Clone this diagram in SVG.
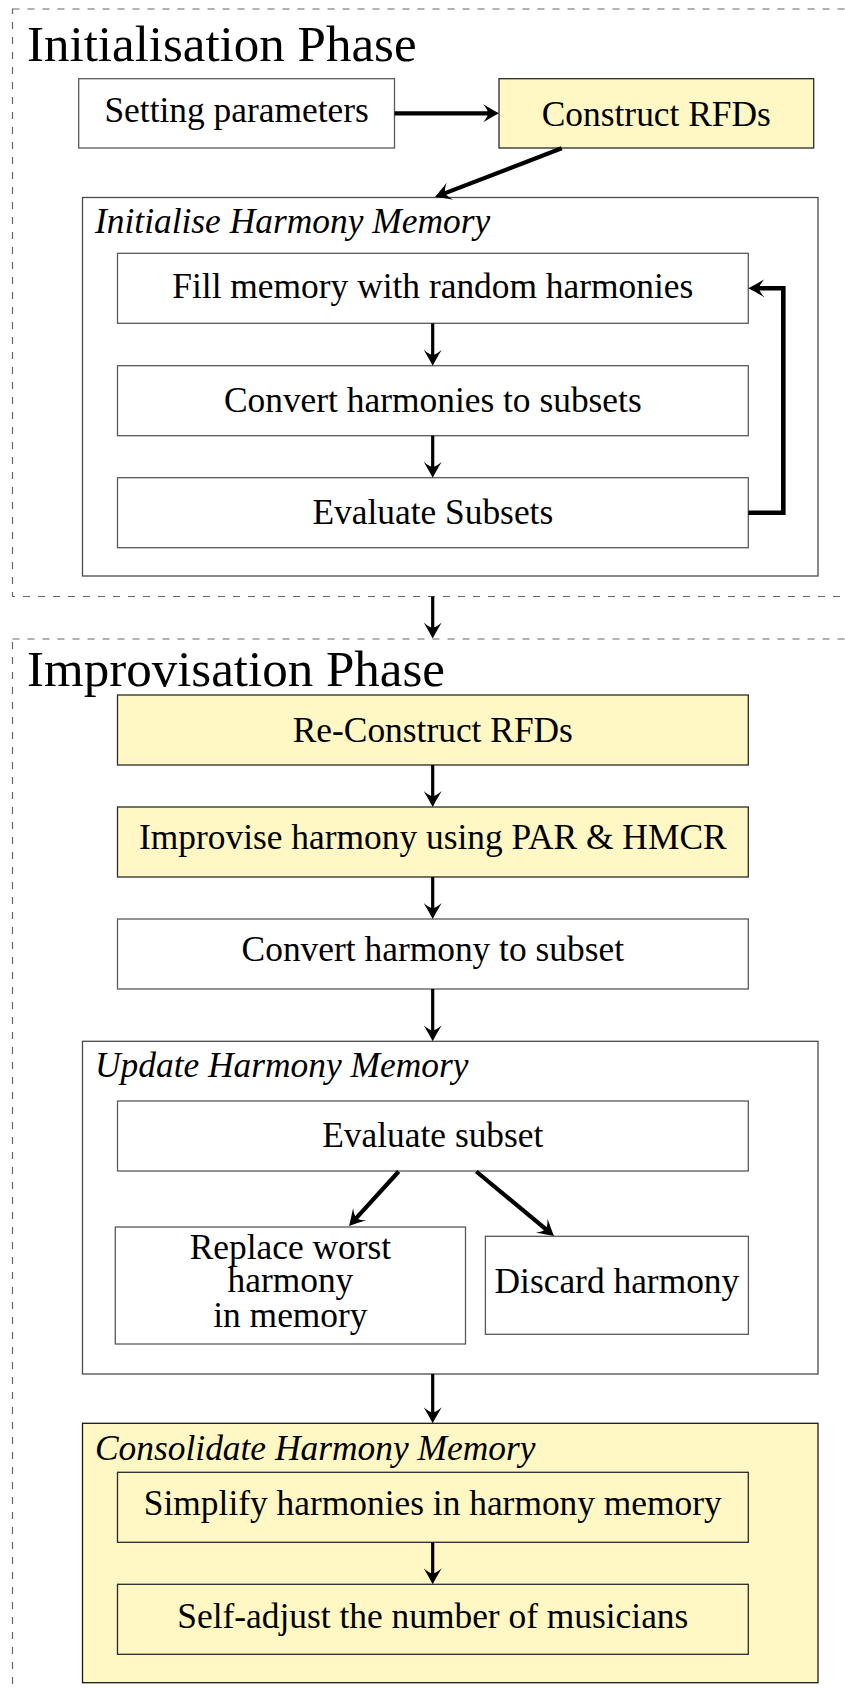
<svg xmlns="http://www.w3.org/2000/svg" width="845" height="1690" viewBox="0 0 845 1690">
  <style>
    text { font-family: "Liberation Serif", "Times New Roman", serif; fill: #000; }
    .phase { font-size: 51px; }
    .lbl { font-size: 35.4px; text-anchor: middle; }
    .grp { font-size: 35.4px; font-style: italic; }
    .box { fill: #fff; stroke: #5a5a5a; stroke-width: 1.3; }
    .hl { fill: #fff7c4; stroke: #2a2a2a; stroke-width: 1.3; }
    .frame { fill: none; stroke: #666; stroke-width: 1.2; stroke-dasharray: 7 8; }
    .cont { fill: #fff; stroke: #4a4a4a; stroke-width: 1.3; }
    .cont-hl { fill: #fff7c4; stroke: #1a1a1a; stroke-width: 1.3; }
    .edge { fill: none; stroke: #000; stroke-width: 3.2; marker-end: url(#ah); }
    .edge.thick { stroke-width: 4.2; }
  </style>
  <defs>
    <marker id="ah" markerUnits="userSpaceOnUse" orient="auto" viewBox="-20 -15 30 30" markerWidth="30" markerHeight="30" refX="-8" refY="0" overflow="visible">
      <path d="M0,0 C-4,-2 -10,-5.5 -16,-9 Q-11,-3.5 -11,0 Q-11,3.5 -16,9 C-10,5.5 -4,2 0,0 Z" fill="#000"/>
    </marker>
  </defs>

  <!-- phase frames (dashed, open to the right) -->
  <g id="initialisation-phase">
    <rect class="frame" x="12.5" y="9" width="900" height="587.5"/>
    <text class="phase" x="27" y="61">Initialisation Phase</text>
  </g>
  <g id="improvisation-phase">
    <rect class="frame" x="12.5" y="639" width="900" height="1100"/>
    <text class="phase" x="27" y="686">Improvisation Phase</text>
  </g>

  <!-- initialisation phase -->
  <g id="setting-parameters">
    <rect class="box" x="78.7" y="78.7" width="315.8" height="69.3"/>
    <text class="lbl" x="236.6" y="122">Setting parameters</text>
  </g>
  <g id="construct-rfds">
    <rect class="hl" x="499" y="78.7" width="314.7" height="69.3"/>
    <text class="lbl" x="656.3" y="126">Construct RFDs</text>
  </g>
  <g id="initialise-hm">
    <rect class="cont" x="82.5" y="197.5" width="735.5" height="378.5"/>
    <text class="grp" x="95" y="233">Initialise Harmony Memory</text>
  </g>
  <g id="fill-memory">
    <rect class="box" x="117.5" y="253.3" width="630.8" height="70"/>
    <text class="lbl" x="432.8" y="298">Fill memory with random harmonies</text>
  </g>
  <g id="convert-harmonies">
    <rect class="box" x="117.5" y="365.7" width="630.8" height="70"/>
    <text class="lbl" x="432.8" y="412">Convert harmonies to subsets</text>
  </g>
  <g id="evaluate-subsets">
    <rect class="box" x="117.5" y="477.7" width="630.8" height="70"/>
    <text class="lbl" x="432.8" y="524">Evaluate Subsets</text>
  </g>

  <!-- improvisation phase -->
  <g id="reconstruct-rfds">
    <rect class="hl" x="117.5" y="695" width="630.8" height="70"/>
    <text class="lbl" x="432.8" y="742">Re-Construct RFDs</text>
  </g>
  <g id="improvise-harmony">
    <rect class="hl" x="117.5" y="807" width="630.8" height="70"/>
    <text class="lbl" x="432.8" y="849">Improvise harmony using PAR &amp; HMCR</text>
  </g>
  <g id="convert-harmony">
    <rect class="box" x="117.5" y="919" width="630.8" height="70"/>
    <text class="lbl" x="432.8" y="961">Convert harmony to subset</text>
  </g>
  <g id="update-hm">
    <rect class="cont" x="82.5" y="1041.3" width="735.5" height="332.7"/>
    <text class="grp" x="95" y="1077">Update Harmony Memory</text>
  </g>
  <g id="evaluate-subset">
    <rect class="box" x="117.5" y="1101" width="630.8" height="70"/>
    <text class="lbl" x="432.8" y="1147">Evaluate subset</text>
  </g>
  <g id="replace-worst">
    <rect class="box" x="115.3" y="1227" width="350.2" height="117"/>
    <text class="lbl" x="290.4" y="1258.5">Replace worst</text>
    <text class="lbl" x="290.4" y="1292">harmony</text>
    <text class="lbl" x="290.4" y="1326.5">in memory</text>
  </g>
  <g id="discard-harmony">
    <rect class="box" x="485.4" y="1236.3" width="263" height="98"/>
    <text class="lbl" x="616.9" y="1293">Discard harmony</text>
  </g>
  <g id="consolidate-hm">
    <rect class="cont-hl" x="82.5" y="1423.3" width="735.5" height="259.4"/>
    <text class="grp" x="95" y="1459.5">Consolidate Harmony Memory</text>
  </g>
  <g id="simplify-harmonies">
    <rect class="hl" x="117.5" y="1472.3" width="630.8" height="70"/>
    <text class="lbl" x="432.8" y="1515">Simplify harmonies in harmony memory</text>
  </g>
  <g id="self-adjust">
    <rect class="hl" x="117.5" y="1584.3" width="630.8" height="70"/>
    <text class="lbl" x="432.8" y="1628">Self-adjust the number of musicians</text>
  </g>

  <!-- connectors -->
  <g id="connectors">
    <path class="edge thick" d="M394.5,113.3 H491"/>
    <path class="edge thick" d="M561.7,148.3 L442.5,194.1"/>
    <path class="edge" d="M432.7,323.3 V357.7"/>
    <path class="edge" d="M432.7,435.7 V469.7"/>
    <path class="edge thick" d="M748.3,512.7 H783.3 V288.3 H756.3" style="stroke-width:4.6"/>
    <path class="edge" d="M432.7,596.5 V630.5"/>
    <path class="edge" d="M432.7,765 V799"/>
    <path class="edge" d="M432.7,877 V911"/>
    <path class="edge" d="M432.7,989 V1033.3"/>
    <path class="edge thick" d="M398.7,1171.5 L354.4,1220.1"/>
    <path class="edge thick" d="M476.3,1171.5 L547.9,1230.9"/>
    <path class="edge" d="M432.7,1374 V1415.3"/>
    <path class="edge" d="M432.7,1542.3 V1576.3"/>
  </g>
</svg>
